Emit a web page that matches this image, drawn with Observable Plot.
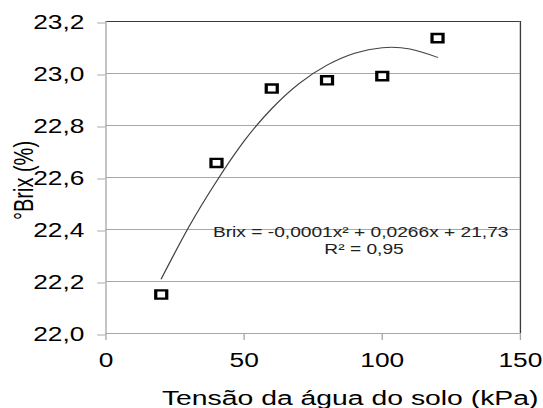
<!DOCTYPE html>
<html>
<head>
<meta charset="utf-8">
<script src="https://cdn.jsdelivr.net/npm/d3@7"></script>
<script src="https://cdn.jsdelivr.net/npm/@observablehq/plot@0.6"></script>
<style>
  html, body { margin: 0; padding: 0; background: #fff; overflow: hidden; }
  #chart svg { transform: scaleX(1.35); transform-origin: 0 0; }
</style>
</head>
<body>
<div id="chart"></div>
<script>
// ---- data ----
const xTicks = [0, 50, 100, 150];
const yTicks = [22.0, 22.2, 22.4, 22.6, 22.8, 23.0, 23.2];
const tension = [20, 40, 60, 80, 100, 120];
const brix = [22.15, 22.656, 22.942, 22.974, 22.99, 23.136];
const trendX = [20, 30, 40, 50, 60, 70, 80, 90, 100, 110, 120];
const trendY = [22.21, 22.41, 22.585, 22.74, 22.865, 22.962, 23.032, 23.078, 23.099, 23.094, 23.062];
const equationLine = "Brix = -0,0001x² + 0,0266x + 21,73";
const r2Line = "R² = 0,95";
const xLabel = "Tensão da água do solo (kPa)";
const yLabel = "°Brix (%)";

const points = tension.map((t, i) => ({t, b: brix[i]}));
const trend = trendX.map((t, i) => ({t, b: trendY[i]}));

const grid = "#a8a8a8";
const dark = "#3a3a3a";
const fmt = d => d.toFixed(1).replace(".", ",");

const chart = Plot.plot({
  width: 402,
  height: 408,
  marginLeft: 78,
  marginRight: 17,
  marginTop: 21,
  marginBottom: 75,
  style: {fontFamily: "'Liberation Sans', Arial, sans-serif", fontSize: "19.5px", background: "#fff", color: "#000"},
  x: {domain: [0, 150]},
  y: {domain: [22.0, 23.2]},
  marks: [
    Plot.ruleY(yTicks.filter(d => d < 23.2), {stroke: grid, strokeWidth: 1}),
    Plot.ruleY([23.2], {stroke: dark, strokeWidth: 1}),
    Plot.ruleX([0], {stroke: grid, strokeWidth: 1}),
    Plot.ruleX([150], {stroke: dark, strokeWidth: 1}),
    Plot.axisX({ticks: xTicks, tickSize: 7, tickPadding: 13, stroke: grid, fill: "#000", label: null, tickFormat: d => String(d), fontSize: 19.5}),
    Plot.axisY({ticks: yTicks, tickSize: 6, tickPadding: 10, stroke: grid, fill: "#000", label: null, tickFormat: fmt, dy: 1.5, fontSize: 19.5}),
    Plot.line(trend, {x: "t", y: "b", curve: "natural", stroke: "#444", strokeWidth: 1}),
    Plot.dot(points, {x: "t", y: "b", symbol: "square", r: 4.6, stroke: "#000", strokeWidth: 2.4, fill: "#fff"}),
    Plot.text([equationLine], {x: 92.2, y: 22.371, lineAnchor: "bottom", textAnchor: "middle", fontSize: 14.2, fill: "#222"}),
    Plot.text([r2Line], {x: 93.4, y: 22.304, lineAnchor: "bottom", textAnchor: "middle", fontSize: 14.2, fill: "#222"}),
    Plot.text([xLabel], {frameAnchor: "bottom", lineAnchor: "bottom", textAnchor: "middle", dx: 27.4, dy: 71.7, fontSize: 21, fill: "#000"}),
    Plot.text([yLabel], {frameAnchor: "left", lineAnchor: "bottom", textAnchor: "middle", rotate: -90, dx: -54.3, dy: 3, fontSize: 20, fill: "#000"})
  ]
});
document.getElementById("chart").appendChild(chart);
</script>
</body>
</html>
